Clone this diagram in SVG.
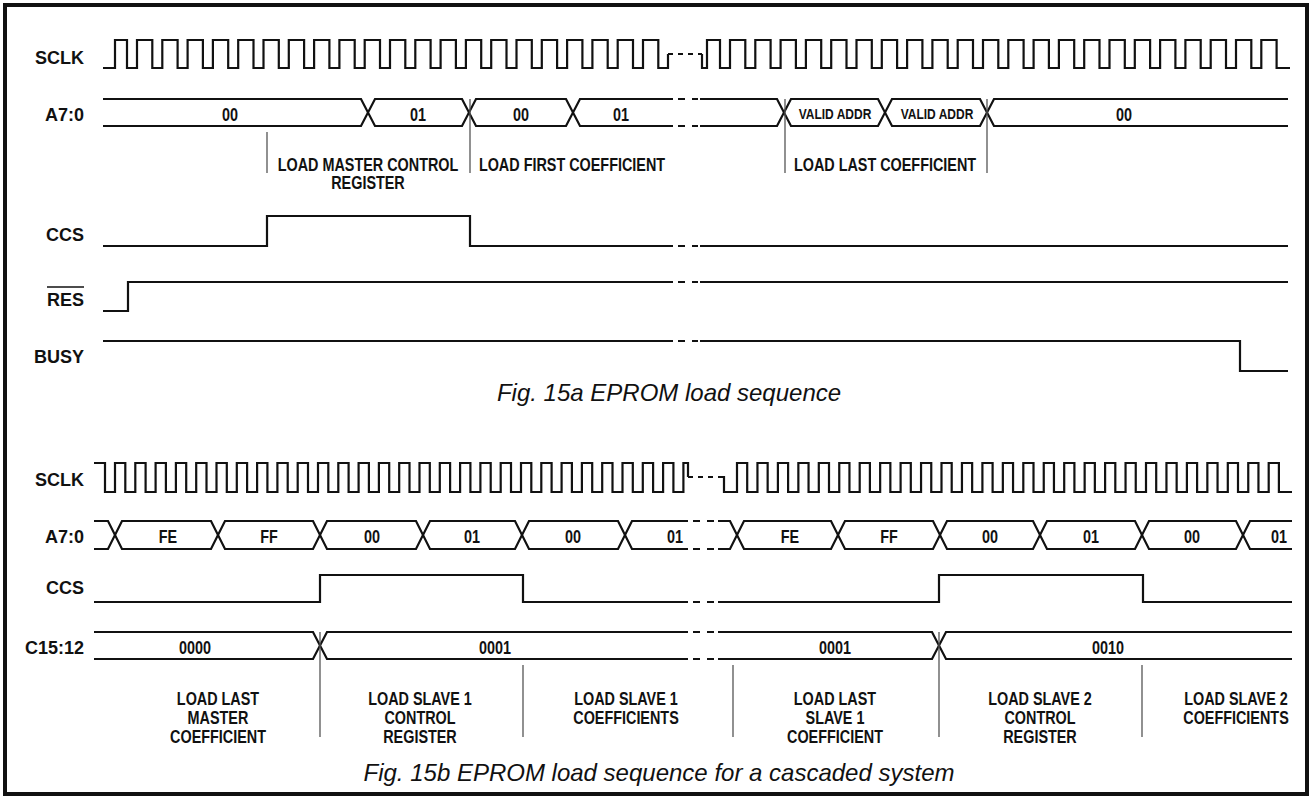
<svg xmlns="http://www.w3.org/2000/svg" width="1313" height="799" viewBox="0 0 1313 799">
<style>
.sig{fill:none;stroke:#111;stroke-width:2.2;stroke-linejoin:miter}
.dsh{fill:none;stroke:#111;stroke-width:2.2;stroke-dasharray:7 7}
.dsh5{fill:none;stroke:#111;stroke-width:2.2;stroke-dasharray:5 5}
.mk{stroke:#555;stroke-width:1.3}
.lbl{font-family:"Liberation Sans",Arial,sans-serif;font-weight:bold;font-size:18px;text-anchor:end;fill:#111}
.val{font-family:"Liberation Sans",Arial,sans-serif;font-weight:bold;font-size:18px;text-anchor:middle;fill:#111}
.sm{font-size:15px}
.cap{font-family:"Liberation Sans",Arial,sans-serif;font-style:italic;font-size:24px;text-anchor:middle;fill:#111}
</style>
<rect x="5" y="5" width="1302" height="789" fill="#fff" stroke="#111" stroke-width="4"/>

<g id="connectors">
<!-- Fig 15a -->
<g id="a-sclk">
<path class="sig" d="M103 68H115V40H127V68h10V40h15.3V68h10V40h15.3V68h10V40h15.3V68h10V40h15.3V68h10V40h15.3V68h10V40h15.3V68h10V40h15.3V68h10V40h15.3V68h10V40h15.3V68h10V40h15.3V68h10V40h15.3V68h10V40h15.3V68h10V40h15.3V68h10V40h15.3V68h10V40h15.3V68h10V40h15.3V68h10V40h15.3V68h10V40h15.3V68h10V40h15.3V68h10V40h15.3V68h10V40h15.3V68H668V54"/>
<path class="dsh5" d="M668 54H702"/>
<path class="sig" d="M702 54V68H707V40H720V68h10V40h15.3V68h10V40h15.3V68h10V40h15.3V68h10V40h15.3V68h10V40h15.3V68h10V40h15.3V68h10V40h15.3V68h10V40h15.3V68h10V40h15.3V68h10V40h15.3V68h10V40h15.3V68h10V40h15.3V68h10V40h15.3V68h10V40h15.3V68h10V40h15.3V68h10V40h15.3V68h10V40h15.3V68h10V40h15.3V68h10V40h15.3V68h10V40h15.3V68h10V40h15.3V68h10V40h15.3V68H1290"/>
</g>
<g id="a-addr">
<path class="sig" d="M103 99H361L375 126H462L476 99H566L580 126H673"/>
<path class="sig" d="M103 126H361L375 99H462L476 126H566L580 99H673"/>
<path class="dsh" d="M678 99H698M678 126H698"/>
<path class="sig" d="M700 99H777L791 126H878L892 99H980L994 126H1288"/>
<path class="sig" d="M700 126H777L791 99H878L892 126H980L994 99H1288"/>
</g>
<g id="a-ccs">
<path class="sig" d="M103 246H267V216H470V246H673"/>
<path class="dsh" d="M678 246H698"/>
<path class="sig" d="M700 246H1288"/>
</g>
<g id="a-res">
<path class="sig" d="M103 311H128V282H673"/>
<path class="dsh" d="M678 282H698"/>
<path class="sig" d="M700 282H1288"/>
</g>
<g id="a-busy">
<path class="sig" d="M103 341H673"/>
<path class="dsh" d="M678 341H698"/>
<path class="sig" d="M700 341H1240V371H1288"/>
</g>
<g id="a-markers">
<line class="mk" x1="267" y1="132" x2="267" y2="173"/>
<line class="mk" x1="470" y1="99" x2="470" y2="173"/>
<line class="mk" x1="785" y1="99" x2="785" y2="173"/>
<line class="mk" x1="987" y1="99" x2="987" y2="173"/>
</g>

<!-- Fig 15b -->
<g id="b-sclk">
<path class="sig" d="M94 463H105V492h10V463h10.3V492h10V463h10.3V492h10V463h10.3V492h10V463h10.3V492h10V463h10.3V492h10V463h10.3V492h10V463h10.3V492h10V463h10.3V492h10V463h10.3V492h10V463h10.3V492h10V463h10.3V492h10V463h10.3V492h10V463h10.3V492h10V463h10.3V492h10V463h10.3V492h10V463h10.3V492h10V463h10.3V492h10V463h10.3V492h10V463h10.3V492h10V463h10.3V492h10V463h10.3V492h10V463h10.3V492h10V463h10.3V492h10V463h10.3V492h10V463h10.3V492h10V463h10.3V492h10V463h10.3V492h10V463h10.3V492h10V463H688V477"/>
<path class="dsh5" d="M688 477H718"/>
<path class="sig" d="M718 477H724V492H737V463h10.2V492h10.25V463h10.2V492h10.25V463h10.2V492h10.25V463h10.2V492h10.25V463h10.2V492h10.25V463h10.2V492h10.25V463h10.2V492h10.25V463h10.2V492h10.25V463h10.2V492h10.25V463h10.2V492h10.25V463h10.2V492h10.25V463h10.2V492h10.25V463h10.2V492h10.25V463h10.2V492h10.25V463h10.2V492h10.25V463h10.2V492h10.25V463h10.2V492h10.25V463h10.2V492h10.25V463h10.2V492h10.25V463h10.2V492h10.25V463h10.2V492h10.25V463h10.2V492h10.25V463h10.2V492h10.25V463h10.2V492h10.25V463h10.2V492h10.25V463h10.2V492h10.25V463h10.2V492H1292"/>
</g>
<g id="b-addr">
<path class="sig" d="M94 521H108L122 549H211L225 521H313L327 549H416L430 521H515L529 549H618L632 521H688"/>
<path class="sig" d="M94 549H108L122 521H211L225 549H313L327 521H416L430 549H515L529 521H618L632 549H688"/>
<path class="dsh" d="M693 521H715M693 549H715"/>
<path class="sig" d="M718 521H730L744 549H831L845 521H933L947 549H1033L1047 521H1135L1149 549H1236L1250 521H1292"/>
<path class="sig" d="M718 549H730L744 521H831L845 549H933L947 521H1033L1047 549H1135L1149 521H1236L1250 549H1292"/>
</g>
<g id="b-ccs">
<path class="sig" d="M94 602H320V575H523V602H688"/>
<path class="dsh" d="M693 602H715"/>
<path class="sig" d="M718 602H939V575H1143V602H1292"/>
</g>
<g id="b-c15">
<path class="sig" d="M94 632H313L327 659H688"/>
<path class="sig" d="M94 659H313L327 632H688"/>
<path class="dsh" d="M693 632H715M693 659H715"/>
<path class="sig" d="M718 632H932L946 659H1292"/>
<path class="sig" d="M718 659H932L946 632H1292"/>
</g>
<g id="b-markers">
<line class="mk" x1="320" y1="632" x2="320" y2="737"/>
<line class="mk" x1="523" y1="665" x2="523" y2="737"/>
<line class="mk" x1="733" y1="665" x2="733" y2="737"/>
<line class="mk" x1="939" y1="632" x2="939" y2="737"/>
<line class="mk" x1="1142" y1="665" x2="1142" y2="737"/>
</g>
</g>

<g id="signal-labels">
<text class="lbl" x="84" y="64">SCLK</text>
<text class="lbl" x="84" y="121">A7:0</text>
<text class="lbl" x="84" y="241">CCS</text>
<g id="res-label"><text class="lbl" x="84" y="306">RES</text><line x1="47" y1="287" x2="84" y2="287" stroke="#111" stroke-width="1.6"/></g>
<text class="lbl" x="84" y="363">BUSY</text>
<text class="lbl" x="84" y="486">SCLK</text>
<text class="lbl" x="84" y="543">A7:0</text>
<text class="lbl" x="84" y="594">CCS</text>
<text class="lbl" x="84" y="654">C15:12</text>
</g>

<g id="values" transform="scale(0.8 1)">
<text class="val" x="287.5" y="121">00</text>
<text class="val" x="522.5" y="121">01</text>
<text class="val" x="651.25" y="121">00</text>
<text class="val" x="776.25" y="121">01</text>
<text class="val sm" x="1043.75" y="119">VALID ADDR</text>
<text class="val sm" x="1171.25" y="119">VALID ADDR</text>
<text class="val" x="1405" y="121">00</text>

<text class="val" x="210" y="543">FE</text>
<text class="val" x="336.25" y="543">FF</text>
<text class="val" x="465" y="543">00</text>
<text class="val" x="590" y="543">01</text>
<text class="val" x="716.25" y="543">00</text>
<text class="val" x="843.75" y="543">01</text>
<text class="val" x="987.5" y="543">FE</text>
<text class="val" x="1111.25" y="543">FF</text>
<text class="val" x="1237.5" y="543">00</text>
<text class="val" x="1363.75" y="543">01</text>
<text class="val" x="1490" y="543">00</text>
<text class="val" x="1598.75" y="543">01</text>

<text class="val" x="243.75" y="654">0000</text>
<text class="val" x="618.75" y="654">0001</text>
<text class="val" x="1043.75" y="654">0001</text>
<text class="val" x="1385" y="654">0010</text>
</g>

<g id="phase-labels" transform="scale(0.8 1)">
<text class="val" x="460" y="171">LOAD MASTER CONTROL</text>
<text class="val" x="460" y="189">REGISTER</text>
<text class="val" x="715" y="171">LOAD FIRST COEFFICIENT</text>
<text class="val" x="1106.25" y="171">LOAD LAST COEFFICIENT</text>

<text class="val" x="272.5" y="705">LOAD LAST</text>
<text class="val" x="272.5" y="724">MASTER</text>
<text class="val" x="272.5" y="743">COEFFICIENT</text>
<text class="val" x="525" y="705">LOAD SLAVE 1</text>
<text class="val" x="525" y="724">CONTROL</text>
<text class="val" x="525" y="743">REGISTER</text>
<text class="val" x="782.5" y="705">LOAD SLAVE 1</text>
<text class="val" x="782.5" y="724">COEFFICIENTS</text>
<text class="val" x="1043.75" y="705">LOAD LAST</text>
<text class="val" x="1043.75" y="724">SLAVE 1</text>
<text class="val" x="1043.75" y="743">COEFFICIENT</text>
<text class="val" x="1300" y="705">LOAD SLAVE 2</text>
<text class="val" x="1300" y="724">CONTROL</text>
<text class="val" x="1300" y="743">REGISTER</text>
<text class="val" x="1545" y="705">LOAD SLAVE 2</text>
<text class="val" x="1545" y="724">COEFFICIENTS</text>
</g>

<g id="captions">
<text class="cap" x="669" y="401">Fig. 15a EPROM load sequence</text>
<text class="cap" x="659" y="781">Fig. 15b EPROM load sequence for a cascaded system</text>
</g>
</svg>
